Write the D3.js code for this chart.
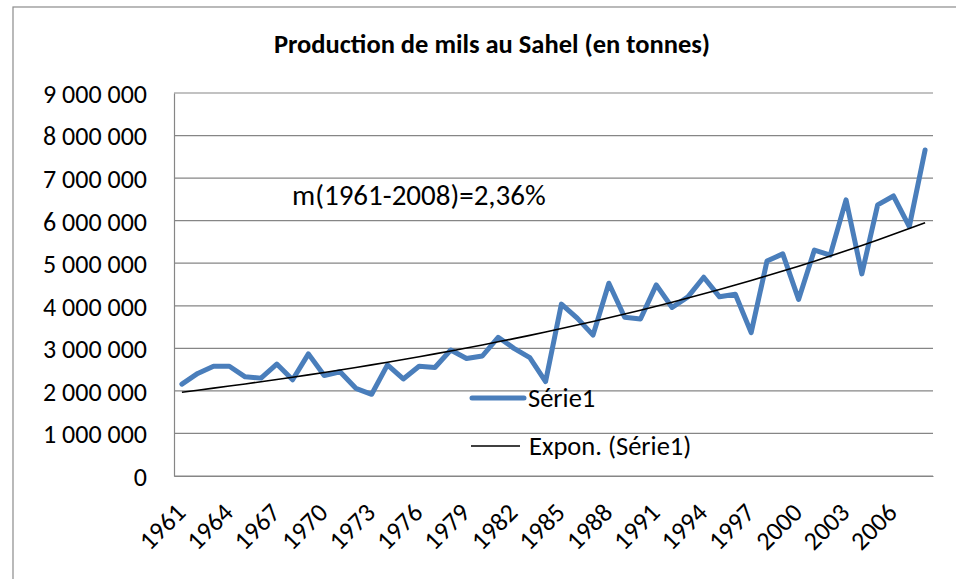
<!DOCTYPE html>
<html>
<head>
<meta charset="utf-8">
<script src="https://cdn.jsdelivr.net/npm/d3@7"></script>
<style>
  body { margin: 0; background: #ffffff; }
  text { font-family: Carlito, Lato, "Open Sans", sans-serif; fill: #000; }
</style>
</head>
<body>
<div class="chart"></div>
<script>
// values (tonnes)
var years = d3.range(1961, 2009);
var production = [
    2160000, 2410000, 2580000, 2580000, 2330000, 2300000, 2630000, 2260000,
    2870000, 2360000, 2450000, 2060000, 1920000, 2610000, 2280000, 2580000,
    2550000, 2960000, 2760000, 2820000, 3260000, 3000000, 2780000, 2220000,
    4040000, 3710000, 3310000, 4530000, 3730000, 3690000, 4490000, 3960000,
    4210000, 4670000, 4210000, 4270000, 3370000, 5050000, 5220000, 4150000,
    5310000, 5190000, 6490000, 4750000, 6370000, 6580000, 5860000, 7660000
];
var yTicks = [0, 1e6, 2e6, 3e6, 4e6, 5e6, 6e6, 7e6, 8e6, 9e6];
var xTickYears = [1961, 1964, 1967, 1970, 1973, 1976, 1979, 1982, 1985, 1988, 1991, 1994, 1997, 2000, 2003, 2006];
var title = "Production de mils au Sahel (en tonnes)";
var annotation = "m(1961-2008)=2,36%";
var legendLabels = ["Série1", "Expon. (Série1)"];

var width = 956, height = 579;
var plot = { left: 174, right: 933, top: 93, bottom: 476 };

var fr = d3.formatLocale({ decimal: ",", thousands: "\u00a0", grouping: [3], currency: ["", " €"] });
var fmt = fr.format(",d");

var svg = d3.select(".chart").append("svg")
    .attr("width", width)
    .attr("height", height);

//chart border (right and bottom fall outside the window)
svg.append("rect")
    .attr("x", 13).attr("y", 7)
    .attr("width", 960).attr("height", 600)
    .attr("fill", "#fff")
    .attr("stroke", "#8c8c8c")
    .attr("stroke-width", 1.2);

var x = d3.scaleBand().domain(years).range([plot.left, plot.right]);
var y = d3.scaleLinear().domain([0, 9e6]).range([plot.bottom, plot.top]);
var cx = function (yr) { return x(yr) + x.bandwidth() / 2; };

//gridlines
svg.append("g")
    .selectAll("line")
    .data(yTicks)
    .join("line")
    .attr("x1", plot.left).attr("x2", plot.right)
    .attr("y1", function (d) { return y(d); })
    .attr("y2", function (d) { return y(d); })
    .attr("stroke", "#868686")
    .attr("stroke-width", 1.2);

//y axis
var yAxis = svg.append("g")
    .attr("transform", "translate(" + plot.left + ",0)")
    .call(d3.axisLeft(y).tickValues(yTicks).tickFormat(fmt).tickSize(0).tickPadding(27));
yAxis.select(".domain").attr("stroke", "#868686").attr("stroke-width", 1.2);
yAxis.selectAll("text").style("font-size", "26px").attr("dy", "0.36em");

//x axis
var xAxis = svg.append("g")
    .attr("transform", "translate(0," + plot.bottom + ")")
    .call(d3.axisBottom(x).tickValues(xTickYears).tickSize(0).tickFormat(d3.format("d")));
xAxis.select(".domain").attr("stroke", "#868686").attr("stroke-width", 1.2);
xAxis.selectAll("text")
    .style("font-size", "26px")
    .attr("text-anchor", "end")
    .attr("dy", 0)
    .attr("transform", "translate(3,36) rotate(-45)");

//exponential trend (least squares on log values)
var idx = d3.range(years.length);
var lx = d3.mean(idx), ly = d3.mean(production, function (v) { return Math.log(v); });
var b = d3.sum(idx, function (i) { return (i - lx) * (Math.log(production[i]) - ly); }) /
        d3.sum(idx, function (i) { return (i - lx) * (i - lx); });
var a = ly - b * lx;
var trend = idx.map(function (i) { return Math.exp(a + b * i); });

var line = d3.line()
    .x(function (d, i) { return cx(years[i]); })
    .y(function (d) { return y(d); });

svg.append("path")
    .datum(production)
    .attr("d", line)
    .attr("fill", "none")
    .attr("stroke", "#4a7ebb")
    .attr("stroke-width", 5)
    .attr("stroke-linejoin", "round")
    .attr("stroke-linecap", "round");

svg.append("path")
    .datum(trend)
    .attr("d", line.curve(d3.curveMonotoneX))
    .attr("fill", "none")
    .attr("stroke", "#000")
    .attr("stroke-width", 1.6);

//title and annotation
svg.append("text")
    .attr("x", 492).attr("y", 53)
    .attr("text-anchor", "middle")
    .style("font-size", "26.5px")
    .style("font-weight", "bold")
    .text(title);

svg.append("text")
    .attr("x", 292).attr("y", 205)
    .style("font-size", "29px")
    .text(annotation);

//legend
var legend = svg.append("g");
legend.append("line")
    .attr("x1", 472).attr("x2", 524).attr("y1", 398).attr("y2", 398)
    .attr("stroke", "#4a7ebb").attr("stroke-width", 5).attr("stroke-linecap", "round");
legend.append("text").attr("x", 528).attr("y", 407).style("font-size", "26.5px").text(legendLabels[0]);
legend.append("line")
    .attr("x1", 471).attr("x2", 520).attr("y1", 446).attr("y2", 446)
    .attr("stroke", "#000").attr("stroke-width", 1.6);
legend.append("text").attr("x", 529).attr("y", 455).style("font-size", "26.5px").text(legendLabels[1]);
</script>
</body>
</html>
